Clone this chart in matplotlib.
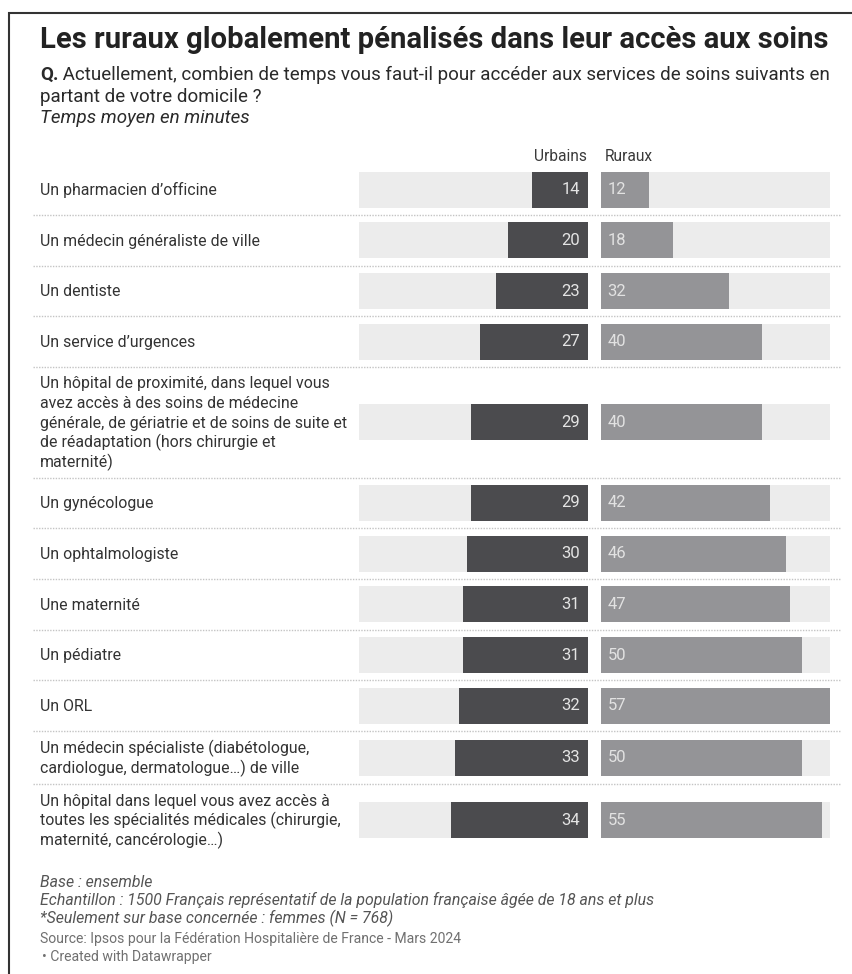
import numpy as np
import matplotlib.pyplot as plt

plt.rcParams['font.family'] = ['Roboto', 'DejaVu Sans']

W, H = 852, 974

# ---- data
labels = [
    "Un pharmacien d’officine",
    "Un médecin généraliste de ville",
    "Un dentiste",
    "Un service d’urgences",
    "Un hôpital de proximité, dans lequel vous\navez accès à des soins de médecine\n"
    "générale, de gériatrie et de soins de suite et\nde réadaptation (hors chirurgie et\nmaternité)",
    "Un gynécologue",
    "Un ophtalmologiste",
    "Une maternité",
    "Un pédiatre",
    "Un ORL",
    "Un médecin spécialiste (diabétologue,\ncardiologue, dermatologue…) de ville",
    "Un hôpital dans lequel vous avez accès à\ntoutes les spécialités médicales (chirurgie,\n"
    "maternité, cancérologie…)",
]
urbains = [14, 20, 23, 27, 29, 29, 30, 31, 31, 32, 33, 34]
ruraux = [12, 18, 32, 40, 40, 42, 46, 47, 50, 57, 50, 55]
series = ['Urbains', 'Ruraux']

title = "Les ruraux globalement pénalisés dans leur accès aux soins"
question = " Actuellement, combien de temps vous faut-il pour accéder aux services de soins suivants en"
question2 = "partant de votre domicile ?"
unit_note = "Temps moyen en minutes"
notes = ["Base : ensemble",
         "Echantillon : 1500 Français représentatif de la population française âgée de 18 ans et plus",
         "*Seulement sur base concernée : femmes (N = 768)"]
source = "Source: Ipsos pour la Fédération Hospitalière de France - Mars 2024"
credit = "\u2022 Created with Datawrapper"

# ---- layout (pixels from top-left)
n_lines = [len(l.split('\n')) for l in labels]
row_h = [max(50.7, n * 19.1 + 15) for n in n_lines]
edges = 164.3 + np.concatenate([[0], np.cumsum(row_h)])
centers = (edges[:-1] + edges[1:]) / 2
vmax = max(max(urbains), max(ruraux))
bar_h = 36
x0 = 40

fig = plt.figure(figsize=(W / 100, H / 100), dpi=100)
ax = fig.add_axes([0, 0, 1, 1])
ax.set_xlim(0, W)
ax.set_ylim(H, 0)
ax.axis('off')

# frame
ax.plot([8.5, 8.5, W], [H, 12.5, 12.5], color='#333333', lw=1.5, solid_joinstyle='miter')

# header texts
ax.text(x0, 48, title, fontsize=21.1, fontweight='bold', color='#222222', va='baseline')
r = fig.canvas.get_renderer()
q = ax.text(x0, 80, "Q.", fontsize=13.5, fontweight='bold', color='#2a2a2a', va='baseline')
qx = q.get_window_extent(r).x1
ax.text(qx, 80, question, fontsize=13.5, color='#2a2a2a', va='baseline')
ax.text(x0, 102, question2, fontsize=13.5, color='#2a2a2a', va='baseline')
ax.text(x0, 123, unit_note, fontsize=13.5, style='italic', color='#2a2a2a', va='baseline')

ax.text(587, 161, series[0], fontsize=11.2, color='#3a3a3a', ha='right', va='baseline')
ax.text(605, 161, series[1], fontsize=11.2, color='#3a3a3a', ha='left', va='baseline')

# row labels + separators
for i, lab in enumerate(labels):
    lines = lab.split('\n')
    n = len(lines)
    for j, line in enumerate(lines):
        y = centers[i] + 5.2 + (j - (n - 1) / 2) * 19.6
        ax.text(x0, y, line, fontsize=11.4, color='#333333', va='baseline')
for y in edges[1:-1]:
    ax.plot([33, 840], [y, y], color='#c4c4c4', lw=1, linestyle=(0, (1, 1)))

# bar panels
def px_box(xa, xb, ya, yb):
    return [xa / W, 1 - yb / H, (xb - xa) / W, (yb - ya) / H]

ax_u = fig.add_axes(px_box(359, 588, edges[0], edges[-1]))
ax_r = fig.add_axes(px_box(600.5, 830, edges[0], edges[-1]))
for a in (ax_u, ax_r):
    a.set_ylim(edges[-1], edges[0])
    a.patch.set_alpha(0)
    a.axis('off')
    a.barh(centers, [vmax] * len(labels), height=bar_h, color='#ececec')
ax_u.set_xlim(vmax, 0)
ax_r.set_xlim(0, vmax)

ax_u.barh(centers, urbains, height=bar_h, color='#4b4b4e')
ax_r.barh(centers, ruraux, height=bar_h, color='#949497')

for c, u, rv in zip(centers, urbains, ruraux):
    ax_u.annotate(str(u), (0, c), xytext=(-5.5, 0), textcoords='offset points',
                  ha='right', va='center', fontsize=12, color='#e4e4e4')
    ax_r.annotate(str(rv), (0, c), xytext=(5.2, 0), textcoords='offset points',
                  ha='left', va='center', fontsize=12, color='#e2e2e2')

# footer
for k, t in enumerate(notes):
    ax.text(x0, 887 + k * 18.3, t, fontsize=11.4, style='italic', color='#555555', va='baseline')
ax.text(x0, 943.5, source, fontsize=10.1, color='#707070', va='baseline')
ax.text(x0 + 2, 960.5, credit, fontsize=10.1, color='#707070', va='baseline')

fig.savefig('out.png', dpi=100)
